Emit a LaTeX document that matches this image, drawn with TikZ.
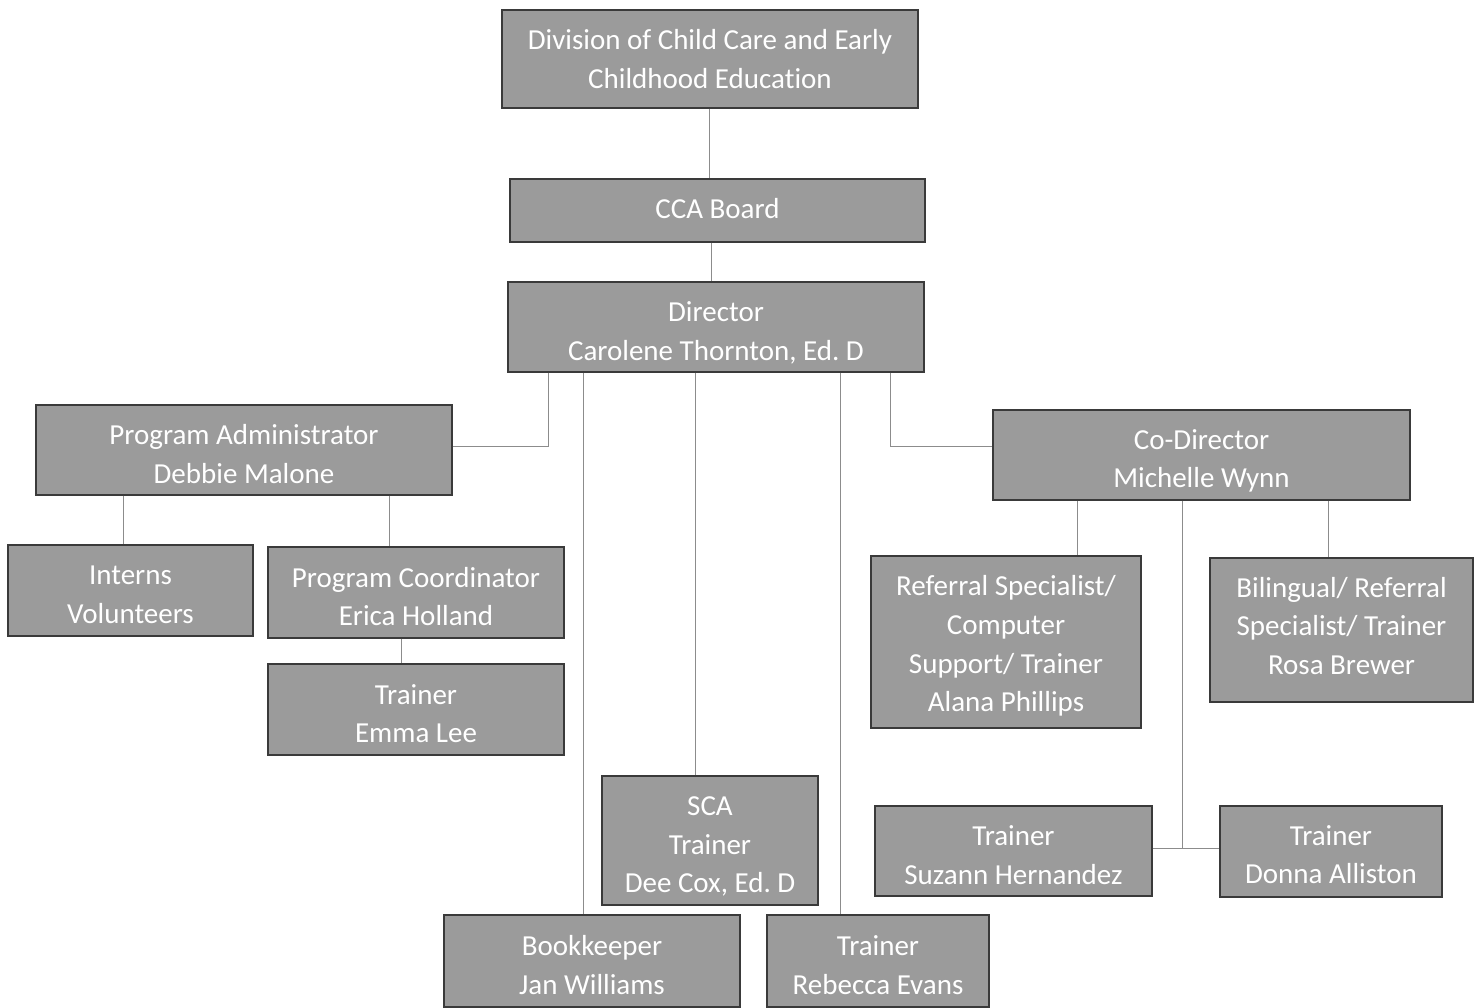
\documentclass[tikz,border=0pt]{standalone}
\usepackage{fontspec}
\setmainfont{Carlito}[Ligatures=CommonOff]
\usetikzlibrary{calc}
\definecolor{boxfill}{HTML}{9B9B9B}
\definecolor{boxline}{HTML}{3A3A3A}
\definecolor{conn}{HTML}{8C8C8C}
\tikzset{
  orgbox/.style={draw=boxline, line width=1.4pt, fill=boxfill, inner sep=0pt},
  orgtext/.style={text=white, align=center, inner sep=0pt,
    font=\frenchspacing\fontsize{29}{38.7}\selectfont},
  link/.style={draw=conn, line width=0.7pt}
}
\begin{document}
\begin{tikzpicture}[x=1pt,y=-1pt]
\useasboundingbox (0,0) rectangle (1479,1007);
% boxes
\node[orgbox, minimum width=416pt, minimum height=98pt] (div) at (710,59) {};
\node[orgbox, minimum width=415pt, minimum height=63pt] (cca) at (717.5,210.5) {};
\node[orgbox, minimum width=416pt, minimum height=90pt] (dir) at (716,327) {};
\node[orgbox, minimum width=416pt, minimum height=90pt] (pa) at (244,450) {};
\node[orgbox, minimum width=245pt, minimum height=91pt] (int) at (130.5,590.5) {};
\node[orgbox, minimum width=296pt, minimum height=91pt] (pc) at (416,592.5) {};
\node[orgbox, minimum width=296pt, minimum height=91pt] (emma) at (416,709.5) {};
\node[orgbox, minimum width=417pt, minimum height=90pt] (codir) at (1201.5,455) {};
\node[orgbox, minimum width=270pt, minimum height=172pt] (ref) at (1006,642) {};
\node[orgbox, minimum width=263pt, minimum height=144pt] (bil) at (1341.5,630) {};
\node[orgbox, minimum width=216pt, minimum height=129pt] (sca) at (710,840.5) {};
\node[orgbox, minimum width=296pt, minimum height=92pt] (book) at (592,961) {};
\node[orgbox, minimum width=222pt, minimum height=92pt] (reb) at (878,961) {};
\node[orgbox, minimum width=277pt, minimum height=90pt] (suz) at (1013.5,851) {};
\node[orgbox, minimum width=222pt, minimum height=91pt] (don) at (1331,851.5) {};
% texts
\node[orgtext] (divT) at ($(div)+(0,0)$) {Division of Child Care and Early\\Childhood Education};
\node[orgtext] (ccaT) at ($(cca)+(0,-2)$) {CCA Board};
\node[orgtext] (dirT) at ($(dir)+(0,6)$) {Director\\Carolene Thornton, Ed. D};
\node[orgtext] (paT) at ($(pa)+(0,4)$) {Program Administrator\\Debbie Malone};
\node[orgtext] (intT) at ($(int)+(0,4)$) {Interns\\Volunteers};
\node[orgtext] (pcT) at ($(pc)+(0,4)$) {Program Coordinator\\Erica Holland};
\node[orgtext] (emmaT) at ($(emma)+(0,4)$) {Trainer\\Emma Lee};
\node[orgtext] (codirT) at ($(codir)+(0,6)$) {Co-Director\\Michelle Wynn};
\node[orgtext] (refT) at ($(ref)+(0,4)$) {Referral Specialist/\\Computer\\Support/ Trainer\\Alana Phillips};
\node[orgtext] (bilT) at ($(bil)+(0,-4)$) {Bilingual/ Referral\\Specialist/ Trainer\\Rosa Brewer};
\node[orgtext] (scaT) at ($(sca)+(0,6)$) {SCA\\Trainer\\Dee Cox, Ed. D};
\node[orgtext] (bookT) at ($(book)+(0,4)$) {Bookkeeper\\Jan Williams};
\node[orgtext] (rebT) at ($(reb)+(0,4)$) {Trainer\\Rebecca Evans};
\node[orgtext] (suzT) at ($(suz)+(0,4)$) {Trainer\\Suzann Hernandez};
\node[orgtext] (donT) at ($(don)+(0,3)$) {Trainer\\Donna Alliston};
% connectors
\draw[link] (div.south -| 709,0) -- (cca.north -| 709,0);
\draw[link] (cca.south -| 711,0) -- (dir.north -| 711,0);
\draw[link] (dir.south -| 548,0) |- ($(pa.east)+(0,-4)$);
\draw[link] (dir.south -| 583,0) -- (book.north -| 583,0);
\draw[link] (dir.south -| 695,0) -- (sca.north -| 695,0);
\draw[link] (dir.south -| 840,0) -- (reb.north -| 840,0);
\draw[link] (dir.south -| 890,0) |- ($(codir.west)+(0,-9)$);
\draw[link] (pa.south -| 123,0) -- (int.north -| 123,0);
\draw[link] (pa.south -| 389,0) -- (pc.north -| 389,0);
\draw[link] (pc.south -| 401,0) -- (emma.north -| 401,0);
\draw[link] (codir.south -| 1077,0) -- (ref.north -| 1077,0);
\draw[link] (codir.south -| 1328,0) -- (bil.north -| 1328,0);
\draw[link] (codir.south -| 1182,0) -- ($(suz.east -| 1182,0)+(0,-3)$);
\draw[link] ($(suz.east)+(0,-3)$) -- ($(don.west)+(0,-3.5)$);
\end{tikzpicture}
\end{document}
